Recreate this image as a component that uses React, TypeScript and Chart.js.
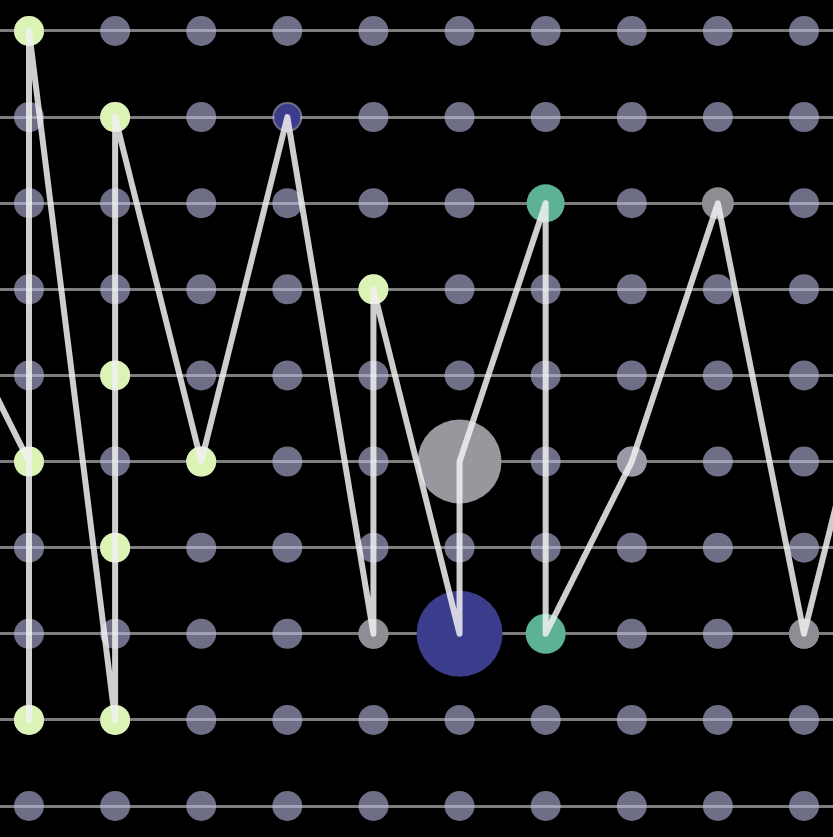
import React, { useEffect, useRef } from "react";
import { Chart, registerables } from "chart.js";

Chart.register(...registerables);

// Background grid of points
const gridColumns = [0, 1, 2, 3, 4, 5, 6, 7, 8, 9];
const gridLevels = [0, 1, 2, 3, 4, 5, 6, 7, 8, 9];

// Path through the grid (x = column, y = level, 9 = top)
const pathX = [-1, 0, 0, 0, 1, 1, 1, 1, 2, 3, 4, 4, 5, 5, 6, 6, 7, 8, 9, 10];
const pathY = [6, 4, 1, 9, 1, 3, 5, 8, 4, 8, 2, 6, 2, 4, 7, 2, 4, 7, 2, 6];

const GREEN = "#dcf3b6";
const BLUE = "#3c3c8c";
const GRAY = "#8d8d93";
const BIGGRAY = "#97979d";
const TEAL = "#5eb294";
const LIGHTGRAY = "#9a9aa6";
const NONE = "rgba(0,0,0,0)";

const markerColors = [
  NONE, GREEN, GREEN, GREEN, GREEN, GREEN, GREEN, GREEN, GREEN,
  BLUE, GRAY, GREEN, BLUE, BIGGRAY, TEAL, TEAL, LIGHTGRAY, GRAY, GRAY, NONE,
];
const markerRadii = [
  0, 15, 15, 15, 15, 15, 15, 15, 15,
  13, 15, 15, 43, 42, 19, 20, 15, 16, 15, 0,
];

export default function App() {
  const canvasRef = useRef<HTMLCanvasElement | null>(null);

  useEffect(() => {
    document.body.style.margin = "0";
    document.body.style.background = "#000";
    document.body.style.overflow = "hidden";
    const canvas = canvasRef.current;
    if (!canvas) return;

    const gridPoints: { x: number; y: number }[] = [];
    for (const c of gridColumns) for (const l of gridLevels) gridPoints.push({ x: c, y: l });
    const pathPoints = pathX.map((x, i) => ({ x, y: pathY[i] }));

    const chart = new Chart(canvas, {
      type: "scatter",
      data: {
        datasets: [
          {
            label: "path",
            type: "line",
            data: pathPoints,
            borderColor: "rgba(240,240,240,0.86)",
            borderWidth: 6,
            pointRadius: 0,
            fill: false,
            tension: 0,
            borderJoinStyle: "round",
            borderCapStyle: "round",
            order: 1,
          } as any,
          {
            label: "markers",
            data: pathPoints,
            backgroundColor: markerColors,
            borderWidth: 0,
            pointRadius: markerRadii,
            order: 2,
          },
          {
            label: "grid",
            data: gridPoints,
            backgroundColor: "rgba(183,183,225,0.6)",
            borderWidth: 0,
            pointRadius: 15,
            order: 3,
          },
        ],
      },
      options: {
        responsive: false,
        animation: false,
        events: [],
        layout: { padding: 0, autoPadding: false },
        plugins: { legend: { display: false }, tooltip: { enabled: false } },
        scales: {
          x: {
            type: "linear",
            display: false,
            min: -0.3368,
            max: 9.337,
          },
          y: {
            type: "linear",
            min: -0.36,
            max: 9.36,
            ticks: { display: false },
            border: { display: false },
            grid: { color: "rgba(125,125,125,1)", lineWidth: 3, drawTicks: false },
            afterBuildTicks: (axis: any) => {
              axis.ticks = gridLevels.map((v) => ({ value: v }));
            },
            afterFit: (s: any) => {
              s.width = 0;
            },
          },
        },
      },
    });
    return () => chart.destroy();
  }, []);

  return (
    <div style={{ width: 833, height: 837, background: "#000" }}>
      <canvas ref={canvasRef} width={833} height={837} style={{ display: "block" }} />
    </div>
  );
}
